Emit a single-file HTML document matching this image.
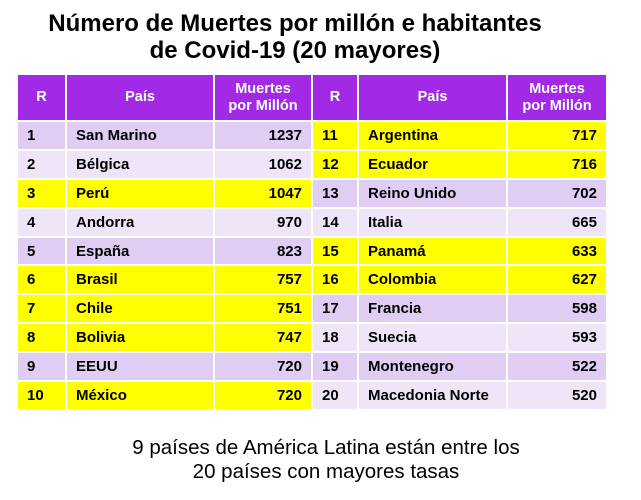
<!DOCTYPE html><html><head><style>
body{margin:0;width:641px;height:500px;background:#fff;font-family:"Liberation Sans",sans-serif;position:relative;overflow:hidden}
.t{position:absolute;left:-5px;width:600px;text-align:center;font-weight:bold;font-size:24px;line-height:27px;top:10px;color:#000}
table{position:absolute;left:16px;top:73px;border-collapse:collapse;font-size:15px;font-weight:bold;table-layout:fixed;width:590px}
td{border:2px solid #fff;padding:0 9px;height:26.9px;overflow:hidden;white-space:nowrap}
th{background:#a22ae6;color:#fff;border:2px solid #fff;height:45px;font-size:14.5px;line-height:17px;padding:0}
.d{background:#e0cdf4}.l{background:#efe4f8}.y{background:#ffff00}
.r{text-align:right}
.b{position:absolute;left:0;width:652px;text-align:center;font-size:20.5px;line-height:24px;top:436px}
</style></head><body>
<div class="t">Número de Muertes por millón e habitantes<br>de Covid-19 (20 mayores)</div>
<table>
<colgroup><col style="width:49px"><col style="width:148px"><col style="width:98px"><col style="width:46px"><col style="width:149px"><col style="width:100px"></colgroup>
<tr><th>R</th><th>País</th><th>Muertes<br>por Millón</th><th>R</th><th>País</th><th>Muertes<br>por Millón</th></tr>
<tr><td class="d">1</td><td class="d">San Marino</td><td class="d r">1237</td><td class="y">11</td><td class="y">Argentina</td><td class="y r">717</td></tr>
<tr><td class="l">2</td><td class="l">Bélgica</td><td class="l r">1062</td><td class="y">12</td><td class="y">Ecuador</td><td class="y r">716</td></tr>
<tr><td class="y">3</td><td class="y">Perú</td><td class="y r">1047</td><td class="d">13</td><td class="d">Reino Unido</td><td class="d r">702</td></tr>
<tr><td class="l">4</td><td class="l">Andorra</td><td class="l r">970</td><td class="l">14</td><td class="l">Italia</td><td class="l r">665</td></tr>
<tr><td class="d">5</td><td class="d">España</td><td class="d r">823</td><td class="y">15</td><td class="y">Panamá</td><td class="y r">633</td></tr>
<tr><td class="y">6</td><td class="y">Brasil</td><td class="y r">757</td><td class="y">16</td><td class="y">Colombia</td><td class="y r">627</td></tr>
<tr><td class="y">7</td><td class="y">Chile</td><td class="y r">751</td><td class="d">17</td><td class="d">Francia</td><td class="d r">598</td></tr>
<tr><td class="y">8</td><td class="y">Bolivia</td><td class="y r">747</td><td class="l">18</td><td class="l">Suecia</td><td class="l r">593</td></tr>
<tr><td class="d">9</td><td class="d">EEUU</td><td class="d r">720</td><td class="d">19</td><td class="d">Montenegro</td><td class="d r">522</td></tr>
<tr><td class="y">10</td><td class="y">México</td><td class="y r">720</td><td class="l">20</td><td class="l">Macedonia Norte</td><td class="l r">520</td></tr>
</table>
<div class="b">9 países de América Latina están entre los<br>20 países con mayores tasas</div>
</body></html>
